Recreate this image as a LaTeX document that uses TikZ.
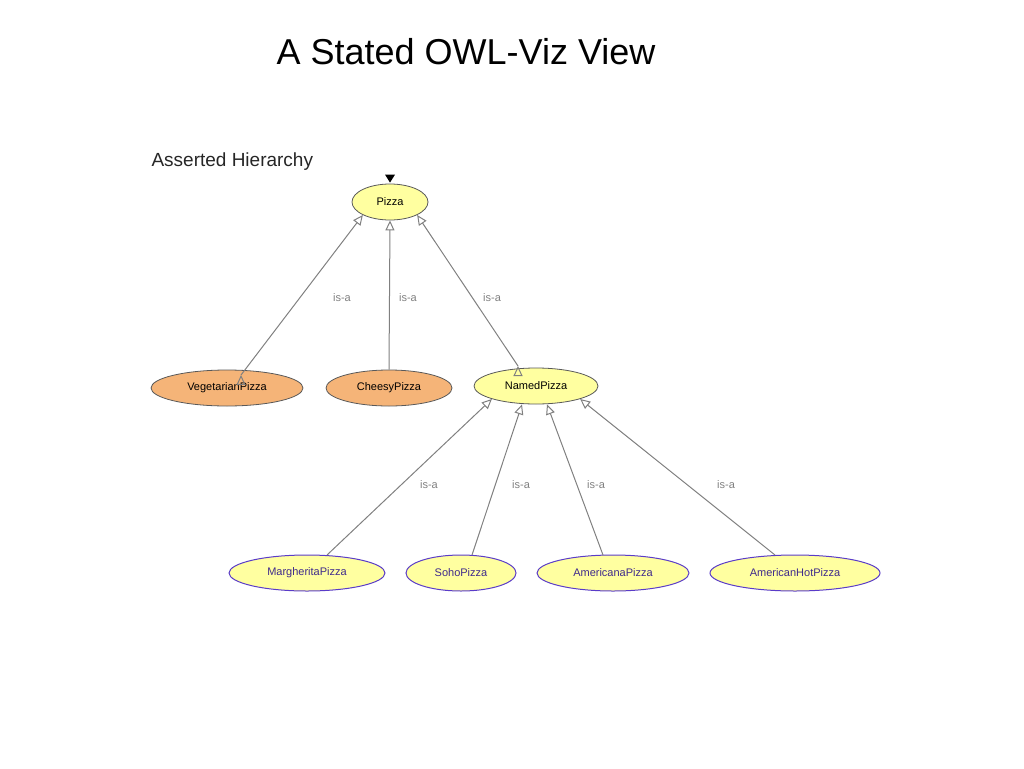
\documentclass[tikz,border=0pt]{standalone}
\usepackage{fontspec}
\setmainfont{Liberation Sans}
\usetikzlibrary{shapes.geometric,arrows.meta}
\definecolor{yel}{RGB}{255,255,160}
\definecolor{ora}{RGB}{245,180,120}
\definecolor{pur}{RGB}{90,60,200}
\begin{document}
\begin{tikzpicture}[x=1pt,y=-1pt,
  cls/.style={ellipse,draw=gray!70!black,line width=0.8pt,minimum height=36pt,inner sep=0pt,font=\fontsize{11}{12}\selectfont},
  yc/.style={cls,fill=yel},
  oc/.style={cls,fill=ora},
  pc/.style={cls,fill=yel,draw=pur,line width=1pt,text=pur!70!black},
  isa/.style={draw=gray,line width=1pt,-{Triangle[open,length=10pt,width=9pt]}},
  lab/.style={text=gray,font=\fontsize{11}{12}\selectfont}]
\useasboundingbox (0,0) rectangle (1024,768);
\node (title) at (466,52) {\fontsize{36}{40}\selectfont A Stated OWL-Viz View};
\node[anchor=west,text=black!85] (hdr) at (148,162) {\fontsize{19}{22}\selectfont Asserted Hierarchy};
\node[yc,minimum width=76pt] (pizza) at (390,202) {Pizza};
\node[oc,minimum width=152pt] (veg) at (227,388) {VegetarianPizza};
\node[oc,minimum width=126pt] (chs) at (389,388) {CheesyPizza};
\node[yc,minimum width=124pt] (named) at (536,386) {NamedPizza};
\node[pc,minimum width=156pt] (mar) at (307,573) {MargheritaPizza};
\node[pc,minimum width=110pt] (soho) at (461,573) {SohoPizza};
\node[pc,minimum width=152pt] (ame) at (613,573) {AmericanaPizza};
\node[pc,minimum width=170pt] (amh) at (795,573) {AmericanHotPizza};
\fill (pizza.north) ++(0,-1) -- ++(-5,-8) -- ++(10,0) -- cycle;
\draw[isa] (veg.north east) ++(-40,0) coordinate (v1);
\draw[isa] (v1) -- (pizza.south west);
\draw[isa] (chs.north) -- (pizza.south);
\draw[isa] (named) ++(-18,-20) coordinate (n1);
\draw[isa] (n1) -- (pizza.south east);
\coordinate (m1) at (327,555);
\coordinate (s1) at (472,555);
\coordinate (a1) at (603,555);
\coordinate (h1) at (775,555);
\draw[isa] (m1) -- (named.south west);
\draw[isa] (s1) -- ([xshift=-14pt]named.south);
\draw[isa] (a1) -- ([xshift=11pt]named.south);
\draw[isa] (h1) -- (named.south east);
\node[lab] (l1) at (342,298) {is-a};
\node[lab] (l2) at (408,298) {is-a};
\node[lab] (l3) at (492,298) {is-a};
\node[lab] (l4) at (429,485) {is-a};
\node[lab] (l5) at (521,485) {is-a};
\node[lab] (l6) at (596,485) {is-a};
\node[lab] (l7) at (726,485) {is-a};
\end{tikzpicture}
\end{document}
